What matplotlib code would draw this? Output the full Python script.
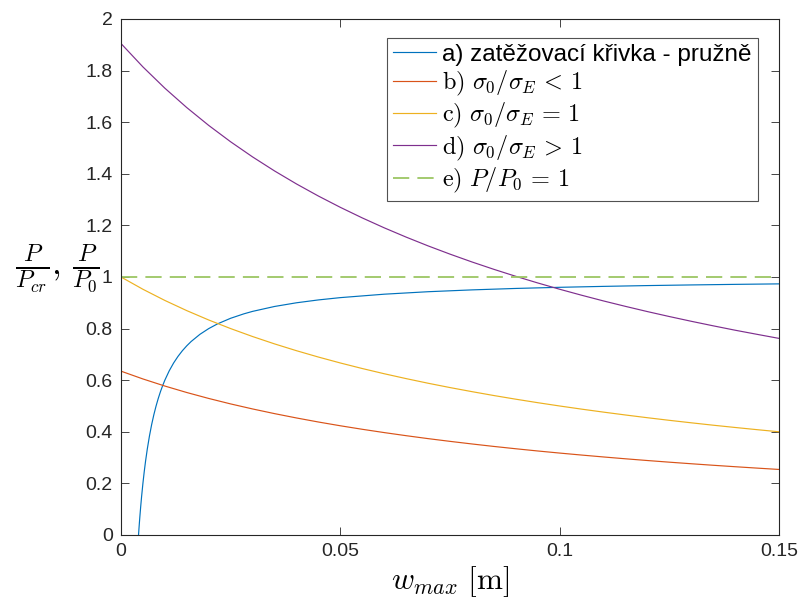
import matplotlib
matplotlib.use("Agg")
import matplotlib.pyplot as plt

plt.rcParams['mathtext.fontset'] = 'cm'
plt.rcParams['font.family'] = ['Liberation Sans', 'DejaVu Sans']

# a) loading curve (elastic)
w_a = [0.004, 0.0041, 0.0042, 0.0043, 0.0045, 0.0047, 0.005, 0.0053, 0.0056, 0.006,
       0.0065, 0.007, 0.0075, 0.008, 0.0085, 0.009, 0.0095, 0.01, 0.011, 0.012,
       0.013, 0.014, 0.015, 0.016, 0.018, 0.02, 0.022, 0.025, 0.028, 0.03,
       0.035, 0.04, 0.045, 0.05, 0.06, 0.07, 0.08, 0.09, 0.1, 0.11,
       0.12, 0.13, 0.14, 0.15]
p_a = [0.0, 0.0244, 0.0476, 0.0698, 0.1111, 0.1489, 0.2, 0.2453, 0.2857, 0.3333,
       0.3846, 0.4286, 0.4667, 0.5, 0.5294, 0.5556, 0.5789, 0.6, 0.6364, 0.6667,
       0.6923, 0.7143, 0.7333, 0.75, 0.7778, 0.8, 0.8182, 0.84, 0.8571, 0.8667,
       0.8857, 0.9, 0.9111, 0.92, 0.9333, 0.9429, 0.95, 0.9556, 0.96, 0.9636,
       0.9667, 0.9692, 0.9714, 0.9733]

w_bcd = [0.0, 0.005, 0.01, 0.015, 0.02, 0.025, 0.03, 0.035, 0.04, 0.045,
         0.05, 0.055, 0.06, 0.065, 0.07, 0.075, 0.08, 0.085, 0.09, 0.095,
         0.1, 0.105, 0.11, 0.115, 0.12, 0.125, 0.13, 0.135, 0.14, 0.145, 0.15]
p_b = [0.635, 0.6048, 0.5773, 0.5522, 0.5292, 0.508, 0.4885, 0.4704, 0.4536, 0.4379,
       0.4233, 0.4097, 0.3969, 0.3849, 0.3735, 0.3629, 0.3528, 0.3432, 0.3342, 0.3256,
       0.3175, 0.3098, 0.3024, 0.2953, 0.2886, 0.2822, 0.2761, 0.2702, 0.2646, 0.2592, 0.254]
p_c = [1.0, 0.9524, 0.9091, 0.8696, 0.8333, 0.8, 0.7692, 0.7407, 0.7143, 0.6897,
       0.6667, 0.6452, 0.625, 0.6061, 0.5882, 0.5714, 0.5556, 0.5405, 0.5263, 0.5128,
       0.5, 0.4878, 0.4762, 0.4651, 0.4545, 0.4444, 0.4348, 0.4255, 0.4167, 0.4082, 0.4]
p_d = [1.905, 1.8143, 1.7318, 1.6566, 1.5875, 1.524, 1.4654, 1.4111, 1.3607, 1.3138,
       1.27, 1.229, 1.1906, 1.1546, 1.1206, 1.0886, 1.0583, 1.0297, 1.0026, 0.9769,
       0.9525, 0.9293, 0.9071, 0.8861, 0.8659, 0.8467, 0.8283, 0.8107, 0.7937, 0.7777, 0.762]
w_e = [0.0, 0.15]
p_e = [1.0, 1.0]

labels = ["a) zatěžovací křivka - pružně",
          r"$\mathrm{b)}\ \sigma_0/\sigma_E\,<\,1$",
          r"$\mathrm{c)}\ \sigma_0/\sigma_E\,=\,1$",
          r"$\mathrm{d)}\ \sigma_0/\sigma_E\,>\,1$",
          r"$\mathrm{e)}\ P/P_0\,=\,1$"]
xticks = [0, 0.05, 0.1, 0.15]
xticklabels = ["0", "0.05", "0.1", "0.15"]
yticks = [0, 0.2, 0.4, 0.6, 0.8, 1, 1.2, 1.4, 1.6, 1.8, 2]
yticklabels = ["0", "0.2", "0.4", "0.6", "0.8", "1", "1.2", "1.4", "1.6", "1.8", "2"]

fig = plt.figure(figsize=(7.98, 6.03), dpi=100)
ax = fig.add_axes([0.1516, 0.1128, 0.8246, 0.8557])

lw = 0.85
ax.plot(w_a, p_a, color='#0072BD', lw=lw, label=labels[0])
ax.plot(w_bcd, p_b, color='#D95319', lw=lw, label=labels[1])
ax.plot(w_bcd, p_c, color='#EDB120', lw=lw, label=labels[2])
ax.plot(w_bcd, p_d, color='#7E2F8E', lw=lw, label=labels[3])
ax.plot(w_e, p_e, color='#9CC663', lw=1.3, ls=(0, (9, 4.5)), label=labels[4])

ax.set_xlim(0, 0.15)
ax.set_ylim(0, 2)
ax.set_xticks(xticks)
ax.set_xticklabels(xticklabels)
ax.set_yticks(yticks)
ax.set_yticklabels(yticklabels)
ax.tick_params(direction='in', length=6, width=0.6, top=True, right=True,
               labelsize=14, colors='#262626', pad=6)
for s in ax.spines.values():
    s.set_linewidth(0.8)
    s.set_color('#262626')

ax.set_xlabel(r"$w_{max}\ [\mathrm{m}]$", fontsize=22.5, labelpad=3)
ax.set_ylabel(r"$\frac{P}{P_{cr}},\,\frac{P}{P_0}$", fontsize=25, rotation=0,
              ha='center', va='center')
ax.yaxis.set_label_coords(-0.097, 0.517)

leg = ax.legend(loc='upper right', bbox_to_anchor=(0.968, 0.964), fontsize=17.5,
                frameon=True, fancybox=False, edgecolor='#262626',
                handlelength=1.75, handletextpad=0.28, borderpad=0.25,
                labelspacing=0.13, borderaxespad=0)
leg.get_frame().set_linewidth(0.8)

fig.savefig("out.png", dpi=100)
